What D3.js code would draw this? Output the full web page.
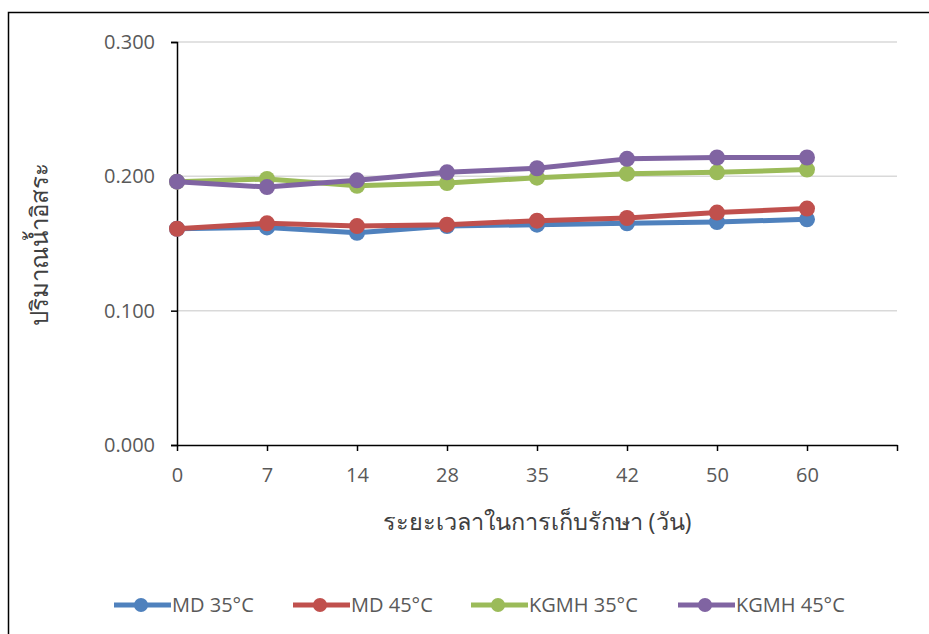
<!DOCTYPE html>
<html>
<head>
<meta charset="utf-8">
<script src="https://cdn.jsdelivr.net/npm/d3@7"></script>
<style>
  html, body { margin: 0; padding: 0; background: #fff; }
  svg text { font-family: "Open Sans", "Noto Sans", "DejaVu Sans", sans-serif; }
</style>
</head>
<body>
<svg id="chart" width="929" height="634"></svg>
<script>
// Storage time (days) on the category axis
const days = ["0", "7", "14", "28", "35", "42", "50", "60"];

// Free water content for each formulation / storage temperature
const md35   = [0.161, 0.162, 0.158, 0.163, 0.164, 0.165, 0.166, 0.168];
const md45   = [0.161, 0.165, 0.163, 0.164, 0.167, 0.169, 0.173, 0.176];
const kgmh35 = [0.196, 0.198, 0.193, 0.195, 0.199, 0.202, 0.203, 0.205];
const kgmh45 = [0.196, 0.192, 0.197, 0.203, 0.206, 0.213, 0.214, 0.214];

const seriesNames = ["MD 35°C", "MD 45°C", "KGMH 35°C", "KGMH 45°C"];
const yTicks = [0, 0.1, 0.2, 0.3];

const xTitle = "ระยะเวลาในการเก็บรักษา (วัน)";
const yTitle = "ปริมาณน้ำอิสระ";

const series = [
  { name: seriesNames[0], values: md35,   color: "#4F81BD" },
  { name: seriesNames[1], values: md45,   color: "#C0504D" },
  { name: seriesNames[2], values: kgmh35, color: "#9BBB59" },
  { name: seriesNames[3], values: kgmh45, color: "#8064A2" }
];

const svg = d3.select("#chart");
const plot = { left: 177, right: 897, top: 42, bottom: 445 };

// outer chart frame
svg.append("rect")
  .attr("x", 8.5).attr("y", 12.5)
  .attr("width", 940).attr("height", 640)
  .attr("fill", "none").attr("stroke", "#000").attr("stroke-width", 1.5);

// one extra empty slot after the last category
const x = d3.scaleLinear().domain([0, days.length]).range([plot.left, plot.right]);
const y = d3.scaleLinear().domain([0, 0.3]).range([plot.bottom, plot.top]);

// gridlines
svg.append("g").selectAll("line")
  .data(yTicks.filter(t => t > 0))
  .join("line")
  .attr("x1", plot.left).attr("x2", plot.right)
  .attr("y1", d => y(d)).attr("y2", d => y(d))
  .attr("stroke", "#D9D9D9").attr("stroke-width", 1.5);

// y axis
const yAxis = svg.append("g")
  .attr("transform", `translate(${plot.left},0)`)
  .call(d3.axisLeft(y).tickValues(yTicks).tickFormat(d3.format(".3f")).tickSize(6).tickPadding(16));
yAxis.select(".domain").attr("stroke", "#000").attr("stroke-width", 1.5);
yAxis.selectAll(".tick line").attr("stroke", "#000").attr("stroke-width", 1.5);
yAxis.selectAll("text").attr("fill", "#595959").attr("font-size", 20);

// x axis
const xAxis = svg.append("g")
  .attr("transform", `translate(0,${plot.bottom})`)
  .call(d3.axisBottom(x)
    .tickValues(d3.range(days.length + 1))
    .tickFormat(i => days[i] || "")
    .tickSize(6).tickSizeOuter(0).tickPadding(17));
xAxis.select(".domain").attr("stroke", "#000").attr("stroke-width", 1.5);
xAxis.selectAll(".tick line").attr("stroke", "#000").attr("stroke-width", 1.5);
xAxis.selectAll("text").attr("fill", "#595959").attr("font-size", 20);

// axis titles
svg.append("text")
  .attr("x", 537).attr("y", 530)
  .attr("text-anchor", "middle")
  .attr("font-size", 23.5).attr("fill", "#404040")
  .text(xTitle);

svg.append("text")
  .attr("transform", "translate(48,244) rotate(-90)")
  .attr("text-anchor", "middle")
  .attr("font-size", 24).attr("fill", "#404040")
  .text(yTitle);

// series lines and markers
const line = d3.line().x((d, i) => x(i)).y(d => y(d));
const gSeries = svg.append("g");
series.forEach(s => {
  const g = gSeries.append("g");
  g.append("path")
    .datum(s.values)
    .attr("d", line)
    .attr("fill", "none")
    .attr("stroke", s.color)
    .attr("stroke-width", 5)
    .attr("stroke-linejoin", "round");
  g.selectAll("circle")
    .data(s.values)
    .join("circle")
    .attr("cx", (d, i) => x(i))
    .attr("cy", d => y(d))
    .attr("r", 8)
    .attr("fill", s.color);
});

// legend
const legendX = [114, 293, 471, 678];
const legend = svg.append("g");
series.forEach((s, i) => {
  const g = legend.append("g").attr("transform", `translate(${legendX[i]},605)`);
  g.append("line")
    .attr("x1", 0).attr("x2", 57).attr("y1", 0).attr("y2", 0)
    .attr("stroke", s.color).attr("stroke-width", 5);
  g.append("circle").attr("cx", 27).attr("cy", 0).attr("r", 7).attr("fill", s.color);
  g.append("text")
    .attr("x", 58).attr("y", 0).attr("dy", "0.35em")
    .attr("font-size", 20).attr("fill", "#595959")
    .text(s.name);
});
</script>
</body>
</html>
